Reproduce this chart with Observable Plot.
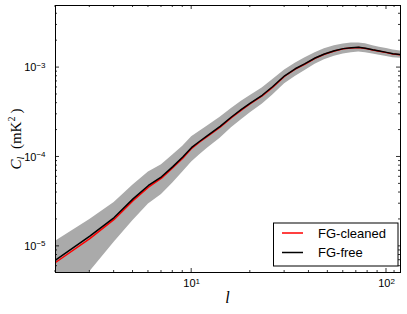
<!DOCTYPE html>
<html><head><meta charset="utf-8">
<script src="https://cdn.jsdelivr.net/npm/d3@7"></script>
<script src="https://cdn.jsdelivr.net/npm/@observablehq/plot@0.6"></script>
<style>body{margin:0;background:#fff}</style>
</head><body><div id="chart"></div>
<script>
const ell = [2,3,4,5,6,7,8,9,10,11,12,14,16,18,20,23,26,30,34,38,43,48,54,60,66,72,78,85,92,100,108,118];
const clFree = [7.0e-6,1.3e-5,2.1e-5,3.4e-5,4.8e-5,6.0e-5,7.8e-5,1.0e-4,1.28e-4,1.5e-4,1.72e-4,2.2e-4,2.8e-4,3.4e-4,4.0e-4,4.9e-4,6.1e-4,8.1e-4,9.7e-4,1.1e-3,1.28e-3,1.42e-3,1.54e-3,1.63e-3,1.67e-3,1.69e-3,1.65e-3,1.58e-3,1.53e-3,1.48e-3,1.43e-3,1.40e-3];
const clCleaned = [6.6e-6,1.22e-5,2.0e-5,3.25e-5,4.6e-5,5.8e-5,7.6e-5,9.7e-5,1.25e-4,1.47e-4,1.69e-4,2.16e-4,2.75e-4,3.35e-4,3.95e-4,4.83e-4,6.0e-4,8.0e-4,9.6e-4,1.09e-3,1.27e-3,1.41e-3,1.53e-3,1.62e-3,1.66e-3,1.68e-3,1.64e-3,1.57e-3,1.52e-3,1.47e-3,1.42e-3,1.39e-3];
const bandLow = [2.6e-6,5.2e-6,1.11e-5,1.95e-5,2.98e-5,3.8e-5,5.1e-5,6.8e-5,8.8e-5,1.06e-4,1.24e-4,1.62e-4,2.12e-4,2.61e-4,3.13e-4,3.9e-4,4.9e-4,6.6e-4,7.97e-4,9.2e-4,1.09e-3,1.22e-3,1.34e-3,1.42e-3,1.47e-3,1.49e-3,1.47e-3,1.42e-3,1.37e-3,1.33e-3,1.29e-3,1.27e-3];
const bandHigh = [1.14e-5,2.0e-5,3.09e-5,4.85e-5,6.8e-5,8.2e-5,1.05e-4,1.32e-4,1.68e-4,1.94e-4,2.2e-4,2.78e-4,3.48e-4,4.19e-4,4.87e-4,5.9e-4,7.3e-4,9.4e-4,1.12e-3,1.28e-3,1.47e-3,1.62e-3,1.76e-3,1.84e-3,1.89e-3,1.89e-3,1.85e-3,1.76e-3,1.69e-3,1.63e-3,1.57e-3,1.53e-3];
const xMajor = [10, 100];
const xMinor = [2,3,4,5,6,7,8,9,20,30,40,50,60,70,80,90,110];
const yMajor = [1e-5, 1e-4, 1e-3];
const yMinor = [6e-6,7e-6,8e-6,9e-6,2e-5,3e-5,4e-5,5e-5,6e-5,7e-5,8e-5,9e-5,2e-4,3e-4,4e-4,5e-4,6e-4,7e-4,8e-4,9e-4,2e-3,3e-3,4e-3];
const seriesNames = ["FG-cleaned", "FG-free"];
const seriesColors = ["#ff0000", "#000000"];

const rows = ell.map((l, i) => ({l, free: clFree[i], cleaned: clCleaned[i], lo: bandLow[i], hi: bandHigh[i]}));
const expFmt = d => "10^" + Math.round(Math.log10(d));

const W = 407, H = 314, ML = 55, MT = 5, MR = 7, MB = 42;
const plot = Plot.plot({
  width: W, height: H,
  marginLeft: ML, marginTop: MT, marginRight: MR, marginBottom: MB,
  style: {fontFamily: "'Liberation Sans', Arial, sans-serif", background: "#fff"},
  x: {type: "log", domain: [2, 118], axis: null},
  y: {type: "log", domain: [5.1e-6, 4.95e-3], axis: null},
  marks: [
    Plot.areaY(rows, {x: "l", y1: "lo", y2: "hi", fill: "#aaaaaa", clip: true}),
    Plot.line(rows, {x: "l", y: "cleaned", stroke: seriesColors[0], strokeWidth: 1.5, clip: true}),
    Plot.line(rows, {x: "l", y: "free", stroke: seriesColors[1], strokeWidth: 1.5, clip: true}),
    Plot.frame({stroke: "#000", strokeWidth: 1}),
    Plot.axisX(xMajor, {anchor: "bottom", label: null, tickSize: 0, tickPadding: 7, tickFormat: expFmt, fontSize: 11, fill: "#000"}),
    Plot.axisY(yMajor, {anchor: "left", label: null, tickSize: 0, tickPadding: 10, tickFormat: expFmt, fontSize: 11, fill: "#000"})
  ]
});

const svg = d3.select(plot);
const sx = plot.scale("x"), sy = plot.scale("y");
const x0 = ML, x1 = W - MR, y0 = MT, y1 = H - MB;
const tg = svg.append("g").attr("stroke", "#000").attr("stroke-width", 0.8);
function xt(vals, len) {
  vals.forEach(v => {
    const px = sx.apply(v);
    tg.append("line").attr("x1", px).attr("x2", px).attr("y1", y1).attr("y2", y1 - len);
    tg.append("line").attr("x1", px).attr("x2", px).attr("y1", y0).attr("y2", y0 + len);
  });
}
function yt(vals, len) {
  vals.forEach(v => {
    const py = sy.apply(v);
    tg.append("line").attr("y1", py).attr("y2", py).attr("x1", x0).attr("x2", x0 + len);
    tg.append("line").attr("y1", py).attr("y2", py).attr("x1", x1).attr("x2", x1 - len);
  });
}
xt(xMajor, 4); xt(xMinor, 2); yt(yMajor, 4); yt(yMinor, 2);

// superscript exponents on tick labels
svg.selectAll("g[aria-label$='tick label'] text").each(function() {
  const t = d3.select(this);
  const s = t.text();
  if (!s.startsWith("10^")) return;
  const e = s.slice(3).replace("-", "\u2212");
  t.text("");
  t.append("tspan").text("10");
  t.append("tspan").attr("dy", "-0.45em").attr("font-size", "8px").text(e);
});

// axis labels
svg.append("text").attr("x", 227.5).attr("y", 303)
  .attr("text-anchor", "middle").attr("font-family", "'Liberation Serif', 'DejaVu Serif', serif")
  .attr("font-style", "italic").attr("font-size", 16).attr("fill", "#000").text("l");
const yl = svg.append("text").attr("transform", "translate(21,139) rotate(-90)")
  .attr("text-anchor", "middle").attr("font-family", "'Liberation Serif', 'DejaVu Serif', serif")
  .attr("font-size", 15).attr("fill", "#000");
yl.append("tspan").attr("font-style", "italic").text("C");
yl.append("tspan").attr("font-style", "italic").attr("font-size", 10).attr("dy", "3").text("l");
yl.append("tspan").attr("dy", "-3").text("\u2002(mK");
yl.append("tspan").attr("font-size", 10).attr("dy", "-6").text("2");
yl.append("tspan").attr("dy", "6").text("\u2009)");

// legend
const lg = svg.append("g");
lg.append("rect").attr("x", 273.5).attr("y", 223).attr("width", 124.5).attr("height", 43)
  .attr("fill", "#fff").attr("stroke", "#000").attr("stroke-width", 1);
seriesNames.forEach((n, i) => {
  const yy = 233 + i * 19.5;
  lg.append("line").attr("x1", 282).attr("x2", 303).attr("y1", yy).attr("y2", yy)
    .attr("stroke", seriesColors[i]).attr("stroke-width", 1.5);
  lg.append("text").attr("x", 318).attr("y", yy).attr("dy", "0.35em").attr("text-anchor", "start")
    .attr("font-size", 13).attr("fill", "#000").text(n);
});

document.getElementById("chart").append(plot);
</script>
</body></html>
